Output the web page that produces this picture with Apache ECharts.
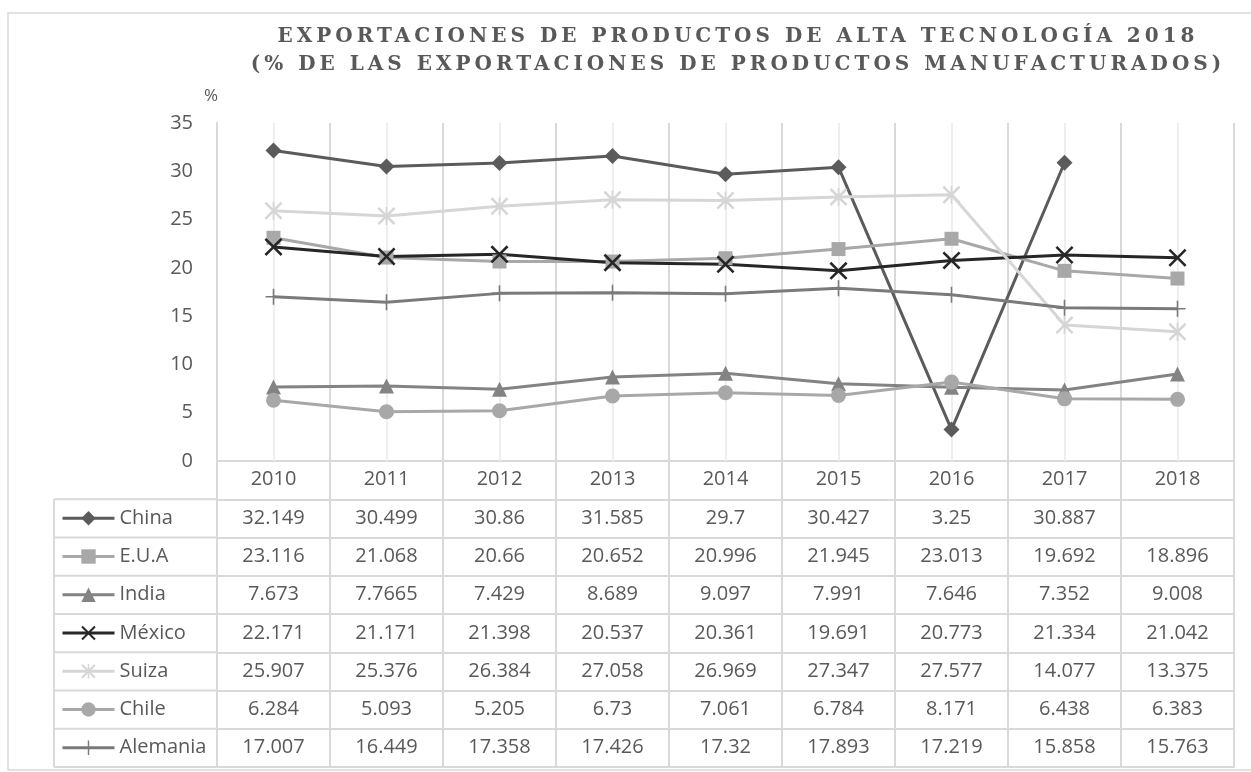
<!DOCTYPE html>
<html>
<head>
<meta charset="utf-8">
<script src="https://cdn.jsdelivr.net/npm/echarts@6/dist/echarts.min.js"></script>
<style>
  html, body { margin: 0; padding: 0; background: #fff; }
  #main { width: 1251px; height: 772px; }
</style>
</head>
<body>
<div id="main"></div>
<script>
const years = ['2010', '2011', '2012', '2013', '2014', '2015', '2016', '2017', '2018']
const china = [32.149, 30.499, 30.86, 31.585, 29.7, 30.427, 3.25, 30.887, null]
const eua = [23.116, 21.068, 20.66, 20.652, 20.996, 21.945, 23.013, 19.692, 18.896]
const india = [7.673, 7.7665, 7.429, 8.689, 9.097, 7.991, 7.646, 7.352, 9.008]
const mexico = [22.171, 21.171, 21.398, 20.537, 20.361, 19.691, 20.773, 21.334, 21.042]
const suiza = [25.907, 25.376, 26.384, 27.058, 26.969, 27.347, 27.577, 14.077, 13.375]
const chile = [6.284, 5.093, 5.205, 6.73, 7.061, 6.784, 8.171, 6.438, 6.383]
const alemania = [17.007, 16.449, 17.358, 17.426, 17.32, 17.893, 17.219, 15.858, 15.763]
const names = ['China', 'E.U.A', 'India', 'México', 'Suiza', 'Chile', 'Alemania']

const rows = [china, eua, india, mexico, suiza, chile, alemania]
const colors = ['#5b5b5b', '#a8a8a8', '#838383', '#262626', '#d6d6d6', '#a8a8a8', '#7a7a7a']
const symbols = [
  'diamond',
  'rect',
  'triangle',
  'path://M2,0L10,8L18,0L20,2L12,10L20,18L18,20L10,12L2,20L0,18L8,10L0,2Z',
  'path://M2,0L10,8L18,0L20,2L12,10L20,18L18,20L10,12L2,20L0,18L8,10L0,2Z M9,0L11,0L11,20L9,20Z',
  'circle',
  'path://M9,0L11,0L11,9L20,9L20,11L11,11L11,20L9,20L9,11L0,11L0,9L9,9Z'
]
const symbolSizes = [16, 14, 15, 18, 18, 15, 16]

const gray = '#595959'
const border = '#d9d9d9'
const font = '"Open Sans", sans-serif'
const rowH = 38.25

// letter spaced title (Excel style)
const origFill = CanvasRenderingContext2D.prototype.fillText
CanvasRenderingContext2D.prototype.fillText = function () {
  if (this.font.indexOf('DejaVu Serif') >= 0) {
    this.letterSpacing = '4px'
    origFill.apply(this, arguments)
    this.letterSpacing = '0px'
    return
  }
  return origFill.apply(this, arguments)
}

const chart = echarts.init(document.getElementById('main'))

// x axes: main year row, centre grid lines, one per table row, bottom border
const xAxes = [
  {
    type: 'category',
    data: years,
    position: 'bottom',
    boundaryGap: true,
    axisLine: { lineStyle: { color: border, width: 2 } },
    axisTick: { show: true, interval: 0, length: rowH * 8, lineStyle: { color: border, width: 2 } },
    axisLabel: { interval: 0, margin: 18, verticalAlign: 'middle', color: gray, fontSize: 20, fontFamily: font },
    splitLine: { show: true, interval: 0, lineStyle: { color: border, width: 2 } }
  },
  {
    type: 'category',
    data: years,
    position: 'bottom',
    axisLine: { show: false },
    axisLabel: { show: false },
    axisTick: { show: true, inside: true, alignWithLabel: true, interval: 0, length: 338, lineStyle: { color: '#eeeeee', width: 2 } },
    splitLine: { show: false }
  }
]
rows.forEach((vals, k) => {
  xAxes.push({
    type: 'category',
    data: years,
    position: 'bottom',
    offset: rowH * (k + 1),
    axisLine: { lineStyle: { color: border, width: 2 } },
    axisTick: { show: false },
    splitLine: { show: false },
    axisLabel: {
      interval: 0,
      margin: 19,
      verticalAlign: 'middle',
      color: gray,
      fontSize: 20,
      fontFamily: font,
      formatter: (v, i) => (vals[i] == null ? '' : String(vals[i]))
    }
  })
})
xAxes.push({
  type: 'category',
  data: years,
  position: 'bottom',
  offset: rowH * 8,
  axisLine: { lineStyle: { color: border, width: 2 } },
  axisTick: { show: false },
  axisLabel: { show: false },
  splitLine: { show: false }
})

// left column of the data table
const tableLines = []
for (let k = 1; k <= 8; k++) {
  const y = 461 + rowH * k
  tableLines.push({ type: 'line', shape: { x1: 54, y1: y, x2: 217, y2: y }, style: { stroke: border, lineWidth: 2 } })
}
tableLines.push({ type: 'line', shape: { x1: 54, y1: 461 + rowH, x2: 54, y2: 461 + rowH * 8 }, style: { stroke: border, lineWidth: 2 } })

const option = {
  animation: false,
  title: {
    text: 'EXPORTACIONES DE PRODUCTOS DE ALTA TECNOLOGÍA 2018\n(% DE LAS EXPORTACIONES DE PRODUCTOS MANUFACTURADOS)',
    left: 733,
    top: 18,
    textAlign: 'center',
    textStyle: {
      fontFamily: 'DejaVu Serif',
      fontWeight: 'bold',
      fontSize: 20,
      lineHeight: 28,
      color: gray
    }
  },
  grid: { left: 217, right: 17, top: 123, bottom: 311, containLabel: false },
  legend: {
    orient: 'vertical',
    left: 61,
    top: 461 + rowH + 9,
    padding: 0,
    itemWidth: 52,
    itemHeight: 18,
    itemGap: rowH - 20,
    selectedMode: false,
    data: names,
    lineStyle: { width: 3 },
    textStyle: { color: gray, fontSize: 20, lineHeight: 20, fontFamily: font }
  },
  xAxis: xAxes,
  yAxis: {
    type: 'value',
    min: 0,
    max: 35,
    interval: 5,
    axisLine: { show: true, lineStyle: { color: border, width: 2 } },
    axisTick: { show: false },
    splitLine: { show: false },
    axisLabel: { margin: 24, color: gray, fontSize: 20, fontFamily: font }
  },
  graphic: [
    { type: 'rect', shape: { x: 8, y: 13, width: 1270, height: 757 }, style: { fill: 'none', stroke: border, lineWidth: 1.5 }, silent: true },
    { type: 'group', children: tableLines, silent: true },
    // unidad del eje Y
    { type: 'text', x: 211, y: 96, style: { text: '%', fill: gray, font: '17px "Open Sans", sans-serif', align: 'center', verticalAlign: 'middle' }, silent: true }
  ],
  series: rows.map((vals, k) => ({
    name: names[k],
    type: 'line',
    data: vals,
    symbol: symbols[k],
    symbolSize: symbolSizes[k],
    showAllSymbol: true,
    connectNulls: false,
    lineStyle: { color: colors[k], width: 3 },
    itemStyle: { color: colors[k] }
  }))
}

chart.setOption(option)
</script>
</body>
</html>
